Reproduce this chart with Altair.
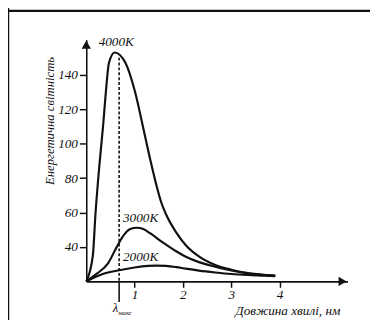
import altair as alt
import pandas as pd

# ---- data ----
lam_4000 = [0, 0.136, 0.19, 0.27, 0.35, 0.405, 0.47, 0.587, 0.81, 1.01, 1.18, 1.33, 1.45, 1.55, 1.65, 1.86, 2.06, 2.33, 2.67, 3.0, 3.34, 3.68, 3.91]
val_4000 = [20, 35, 59, 87, 111, 130, 147, 153, 147, 130, 109, 90, 76, 66, 59, 48.5, 41, 34.5, 29.5, 26.8, 24.8, 23.8, 23.4]

lam_3000 = [0, 0.22, 0.45, 0.64, 0.78, 0.91, 1.05, 1.18, 1.32, 1.59, 1.86, 2.06, 2.33, 2.67, 3.0, 3.34, 3.68, 3.91]
val_3000 = [20, 24.5, 30.5, 40.5, 47, 50.4, 51.2, 50.4, 48.0, 42.5, 37.5, 34.3, 31.2, 28.5, 26.3, 24.7, 23.7, 23.3]

lam_2000 = [0, 0.34, 0.68, 1.0, 1.28, 1.45, 1.65, 1.86, 2.06, 2.33, 2.67, 3.0, 3.34, 3.68, 3.91]
val_2000 = [20, 24.3, 26.5, 28.1, 29.0, 29.2, 29.0, 28.3, 27.4, 26.3, 25.2, 24.3, 23.7, 23.3, 23.0]

series_names = ["4000K", "3000K", "2000K"]
label_lam = [0.62, 0.76, 0.76]
label_val = [158.8, 57, 34.3]

lam_max = 0.68
lam_max_peak = 150
x_ticks = [1, 2, 3, 4]
y_ticks = [40, 60, 80, 100, 120, 140]

x_title = "Довжина хвилі, нм"
y_title = "Енергетична світність"

# ---- build tables ----
rows = []
for name, ls, vs in zip(series_names, [lam_4000, lam_3000, lam_2000], [val_4000, val_3000, val_2000]):
    for l, v in zip(ls, vs):
        rows.append({"series": name, "lam": l, "val": v})
curves_df = pd.DataFrame(rows)
labels_df = pd.DataFrame({"series": series_names, "lam": label_lam, "val": label_val})
lmax_df = pd.DataFrame({"lam": [lam_max], "top": [lam_max_peak], "bottom": [20]})
one = pd.DataFrame({"a": [0]})

W, H = 267, 247
FONT = "Liberation Serif"
INK = "#111111"

xs = alt.Scale(domain=[0, 5.405], nice=False, zero=False)
ys = alt.Scale(domain=[20, 160.4], nice=False, zero=False)

x_axis = alt.Axis(values=x_ticks, title=None, grid=False, tickSize=6, tickWidth=1.5,
                  tickColor=INK, domainColor=INK, domainWidth=1.6,
                  labelFont=FONT, labelFontStyle="italic", labelFontSize=13.5,
                  labelColor=INK, labelPadding=0)
y_axis = alt.Axis(values=y_ticks, title=None, grid=False, tickSize=7, tickWidth=1.5,
                  tickColor=INK, domainColor=INK, domainWidth=1.6,
                  labelFont=FONT, labelFontStyle="italic", labelFontSize=13.5,
                  labelColor=INK, labelPadding=2)

curves = alt.Chart(curves_df).mark_line(interpolate="monotone", strokeWidth=2.2, color=INK).encode(
    x=alt.X("lam:Q", scale=xs, axis=x_axis),
    y=alt.Y("val:Q", scale=ys, axis=y_axis),
    detail="series:N",
)

dashed = alt.Chart(lmax_df).mark_rule(strokeDash=[3, 2], strokeWidth=1.6, color=INK).encode(
    x=alt.X("lam:Q", scale=xs), y=alt.Y("top:Q", scale=ys), y2="bottom:Q"
)
solid_tick = alt.Chart(lmax_df).mark_rule(strokeWidth=1.6, color=INK).encode(
    x=alt.X("lam:Q", scale=xs), y=alt.value(H), y2=alt.value(H + 21)
)

label_top = alt.Chart(labels_df).transform_filter("datum.series == '4000K'").mark_text(
    font=FONT, fontStyle="italic", fontSize=13.5, align="center", baseline="middle", color=INK
).encode(x=alt.X("lam:Q", scale=xs), y=alt.Y("val:Q", scale=ys), text="series:N")
labels = alt.Chart(labels_df).transform_filter("datum.series != '4000K'").mark_text(
    font=FONT, fontStyle="italic", fontSize=13.5, align="left", baseline="middle", color=INK
).encode(x=alt.X("lam:Q", scale=xs), y=alt.Y("val:Q", scale=ys), text="series:N")

lam_sym = alt.Chart(lmax_df).mark_text(font=FONT, fontStyle="italic", fontSize=13, align="right",
                                       baseline="middle", color=INK, dx=-1).encode(
    x=alt.X("lam:Q", scale=xs), y=alt.value(H + 27), text=alt.value("λ")
)
lam_sub = alt.Chart(lmax_df).mark_text(font=FONT, fontStyle="italic", fontSize=7, align="left",
                                       baseline="middle", color=INK, dx=-1).encode(
    x=alt.X("lam:Q", scale=xs), y=alt.value(H + 32), text=alt.value("макс")
)

arrow_up = alt.Chart(one).mark_point(shape="triangle-up", filled=True, size=90, color=INK, opacity=1).encode(
    x=alt.value(0), y=alt.value(5)
)
arrow_right = alt.Chart(one).mark_point(shape="triangle-right", filled=True, size=90, color=INK, opacity=1).encode(
    x=alt.value(W - 5), y=alt.value(H)
)

xtitle = alt.Chart(one).mark_text(font=FONT, fontStyle="italic", fontSize=13.5, align="center",
                                  baseline="middle", color=INK).encode(
    x=alt.value(206), y=alt.value(H + 30), text=alt.value(x_title)
)
ytitle = alt.Chart(one).mark_text(font=FONT, fontStyle="italic", fontSize=13, align="center",
                                  baseline="middle", angle=270, color=INK).encode(
    x=alt.value(-37), y=alt.value(83), text=alt.value(y_title)
)

border_left = alt.Chart(one).mark_rule(strokeWidth=2.5, color="#111").encode(
    x=alt.value(-80), y=alt.value(-40), y2=alt.value(H + 60)
)
border_top = alt.Chart(one).mark_rule(strokeWidth=2.5, color="#111").encode(
    x=alt.value(-80), x2=alt.value(W + 30), y=alt.value(-29.5)
)

chart = alt.layer(
    curves, dashed, solid_tick, label_top, labels, lam_sym, lam_sub,
    arrow_up, arrow_right, xtitle, ytitle, border_left, border_top
).properties(
    width=W, height=H,
    autosize=alt.AutoSizeParams(type="none"),
    padding={"left": 80, "top": 29, "right": 23, "bottom": 36},
    background="white",
).configure_view(strokeWidth=0)

chart.save("out.html", embed_options={"renderer": "svg", "actions": False})
